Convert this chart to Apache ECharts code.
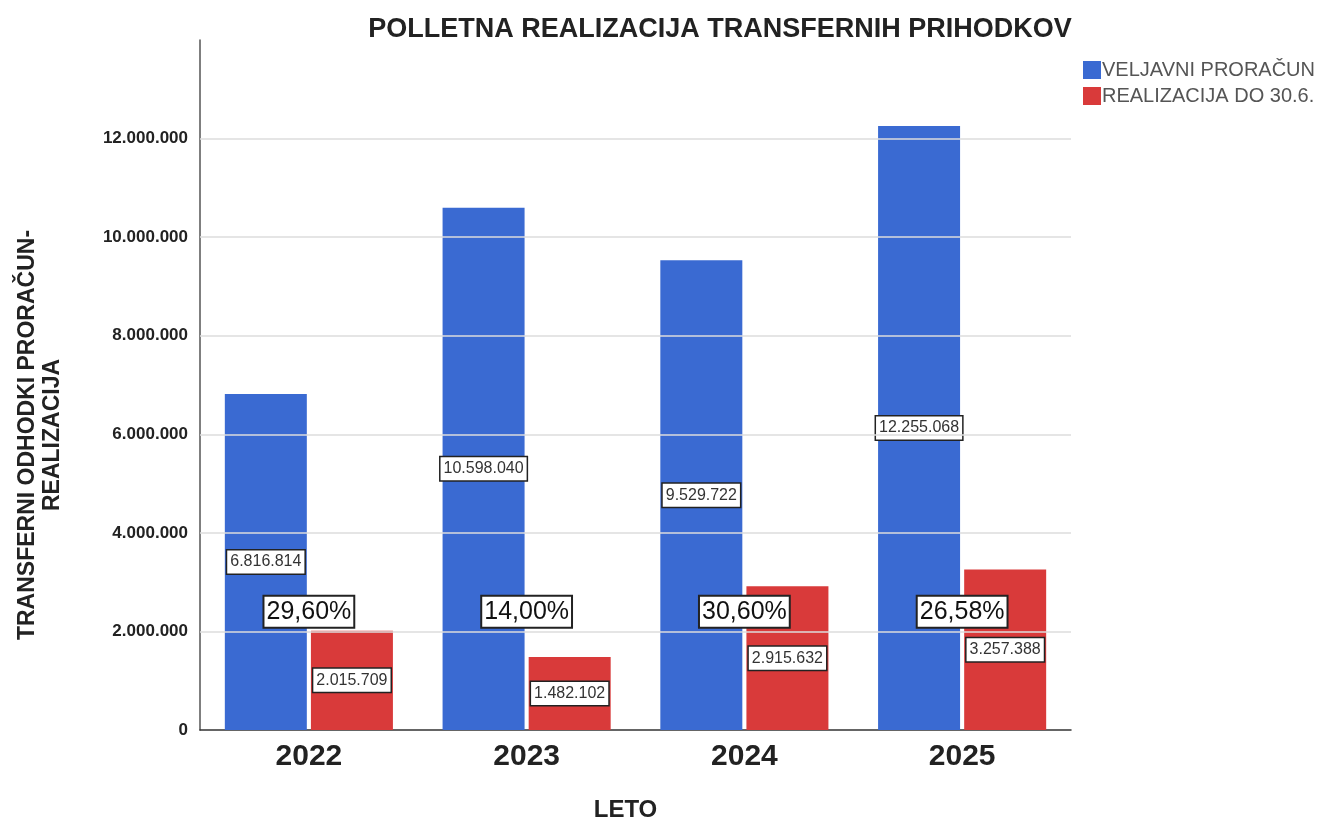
<!DOCTYPE html>
<html>
<head>
<meta charset="UTF-8">
<script src="https://cdn.jsdelivr.net/npm/echarts@6/dist/echarts.min.js"></script>
<style>
  html, body { margin: 0; padding: 0; background: #fff; }
  #c { width: 1343px; height: 824px; }
</style>
</head>
<body>
<div id="c"></div>
<script>
// podatki
const years = ["2022", "2023", "2024", "2025"];
const veljavniProracun = [6816814, 10598040, 9529722, 12255068];
const realizacija = [2015709, 1482102, 2915632, 3257388];
const odstotki = ["29,60%", "14,00%", "30,60%", "26,58%"];
const yTicks = [2000000, 4000000, 6000000, 8000000, 10000000, 12000000];

const fmt = v => String(v).replace(/\B(?=(\d{3})+(?!\d))/g, ".");

const valueLabel = {
    show: true,
    position: "inside",
    formatter: p => fmt(p.value),
    color: "#333",
    fontFamily: "Liberation Sans",
    fontSize: 16,
    backgroundColor: "#fff",
    borderColor: "#222",
    borderWidth: 1.5,
    padding: [4, 3, 3, 3]
};

const chart = echarts.init(document.getElementById("c"), null, { renderer: "canvas" });
chart.setOption({
    animation: false,
    textStyle: { fontFamily: "Liberation Sans" },
    title: {
        text: "POLLETNA REALIZACIJA TRANSFERNIH PRIHODKOV",
        left: 715,
        top: 11,
        textAlign: "center",
        textStyle: { fontSize: 27, fontWeight: "bold", color: "#222", fontFamily: "Liberation Sans" }
    },
    legend: {
        orient: "vertical",
        left: 1078,
        top: 55,
        itemWidth: 18,
        itemHeight: 18,
        itemGap: 6,
        icon: "rect",
        textStyle: { fontSize: 20, color: "#555", padding: [0, 0, 0, -4] },
        data: ["VELJAVNI PRORAČUN", "REALIZACIJA DO 30.6."]
    },
    grid: { left: 200, right: 272, top: 40, bottom: 94, containLabel: false, outerBoundsMode: "none" },
    xAxis: {
        type: "category",
        data: years,
        name: "LETO",
        nameLocation: "middle",
        nameGap: 68,
        nameTextStyle: { fontSize: 24, fontWeight: "bold", color: "#222", padding: [0, 20, 0, 0] },
        axisLine: { lineStyle: { color: "#333", width: 1.5 } },
        axisTick: { show: false },
        axisLabel: { fontSize: 30, fontWeight: "bold", color: "#222", margin: 12 }
    },
    yAxis: {
        type: "value",
        min: 0,
        max: 14000000,
        interval: 2000000,
        name: "TRANSFERNI ODHODKI PRORAČUN-\nREALIZACIJA",
        nameLocation: "middle",
        nameGap: 135,
        nameTextStyle: { fontSize: 23, fontWeight: "bold", color: "#222", lineHeight: 25, padding: [0, 100, 0, 0] },
        axisLine: { show: true, lineStyle: { color: "#555", width: 1.5 } },
        axisTick: { show: false },
        splitLine: { show: false },
        axisLabel: {
            fontSize: 17,
            fontWeight: "bold",
            color: "#222",
            margin: 12,
            formatter: v => (v > 12000000 ? "" : fmt(v))
        }
    },
    series: [
        {
            name: "VELJAVNI PRORAČUN",
            type: "bar",
            data: veljavniProracun,
            barWidth: 82,
            barGap: "5%",
            itemStyle: { color: "#3a6ad2" },
            label: valueLabel,
            markLine: {
                silent: true,
                symbol: "none",
                label: { show: false },
                lineStyle: { color: "#ddd", type: "solid", width: 1.5 },
                data: yTicks.map(v => ({ yAxis: v }))
            },
            z: 2
        },
        {
            name: "REALIZACIJA DO 30.6.",
            type: "bar",
            data: realizacija,
            barWidth: 82,
            itemStyle: { color: "#d93a3a" },
            label: valueLabel,
            z: 2
        },
        {
            type: "scatter",
            data: years.map((y, i) => [i, 2400000]),
            symbolSize: 0,
            silent: true,
            z: 5,
            itemStyle: { opacity: 1 },
            label: {
                show: true,
                position: "inside",
                formatter: p => odstotki[p.dataIndex],
                fontSize: 25,
                color: "#111",
                backgroundColor: "#fff",
                borderColor: "#222",
                borderWidth: 2,
                padding: [4, 2, 1, 2]
            }
        }
    ]
});
</script>
</body>
</html>
